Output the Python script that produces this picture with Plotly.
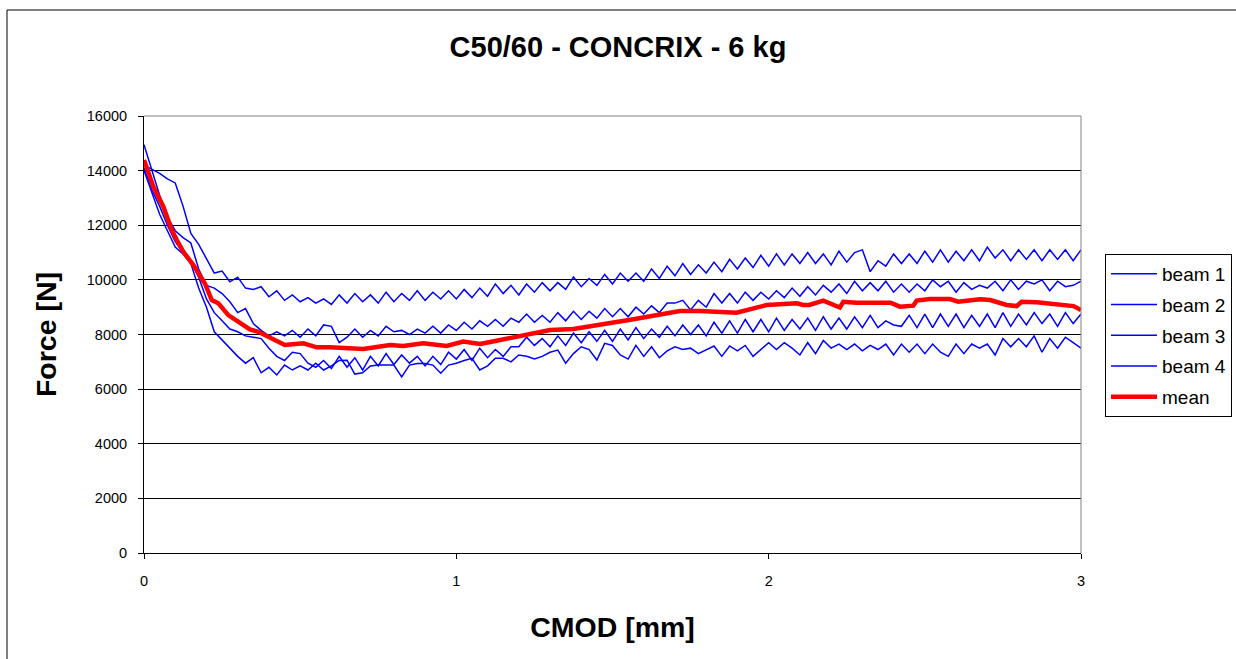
import plotly.graph_objects as go

# CMOD grid for the beam curves (mm)
cmod = [round(i * 0.025, 3) for i in range(121)]

beam_1 = [14200, 14050, 13900, 13700, 13550, 12700, 11700, 11300, 10750, 10250,
          10320, 9930, 10100, 9700, 9650, 9750, 9380, 9600, 9250, 9450,
          9200, 9350, 9150, 9300, 9100, 9450, 9150, 9500, 9200, 9450,
          9150, 9550, 9200, 9500, 9250, 9600, 9250, 9550, 9300, 9600,
          9300, 9650, 9350, 9700, 9400, 9850, 9500, 9800, 9450, 9850,
          9550, 9900, 9600, 9900, 9650, 10100, 9750, 10050, 9800, 10200,
          9850, 10250, 9950, 10250, 9950, 10400, 10050, 10500, 10150, 10600,
          10200, 10550, 10250, 10650, 10300, 10750, 10400, 10800, 10450, 10900,
          10500, 10950, 10550, 10950, 10600, 11000, 10600, 10950, 10550, 11050,
          10650, 11000, 11100, 10300, 10700, 10500, 10950, 10600, 10950, 10600,
          11050, 10650, 11100, 10650, 11050, 10700, 11100, 10700, 11200, 10800,
          11100, 10700, 11100, 10750, 11100, 10700, 11100, 10750, 11100, 10700,
          11100]

beam_2 = [14950, 14000, 13100, 12300, 11800, 11550, 11350, 10400, 9800, 9700,
          9500, 9200, 8800, 8950, 8400, 8150, 7950, 8100, 7950, 8150,
          7900, 8200, 7950, 8350, 8300, 7700, 7900, 8200, 7900, 8150,
          7950, 8300, 8100, 8150, 8000, 8200, 8050, 8300, 8050, 8350,
          8150, 8450, 8200, 8500, 8300, 8550, 8300, 8600, 8450, 8750,
          8450, 8700, 8450, 8800, 8500, 8850, 8550, 8850, 8600, 8950,
          8650, 8950, 8650, 9000, 8750, 9050, 8800, 9150, 9150, 9250,
          8900, 9250, 9000, 9500, 9150, 9500, 9150, 9550, 9250, 9550,
          9300, 9600, 9350, 9700, 9400, 9750, 9450, 9800, 9550, 9850,
          9500, 9950, 9600, 9900, 9600, 9950, 9550, 9850, 9550, 9850,
          9600, 10000, 9750, 9950, 9550, 9900, 9650, 9800, 9700, 9950,
          9600, 10000, 9650, 9950, 9850, 10000, 9600, 9950, 9750, 9800,
          9950]

beam_3 = [14100, 13300, 12700, 12000, 11400, 11000, 10700, 10100, 9300, 8800,
          8500, 8200, 8100, 7950, 7900, 7850, 7500, 7200, 7050, 7350,
          7300, 6950, 6800, 7050, 6750, 7200, 6800, 7150, 6700, 7200,
          6850, 7300, 6900, 7250, 6950, 7200, 6850, 7200, 6900, 7350,
          7100, 7450, 7050, 7500, 7150, 7450, 7200, 7550, 7550, 7900,
          7600, 7850, 7550, 7950, 7600, 8050, 7700, 8100, 7750, 8150,
          7750, 8200, 7800, 8250, 7850, 8200, 7900, 8300, 7950, 8350,
          8000, 8350, 7950, 8450, 8050, 8500, 8050, 8550, 8100, 8550,
          8100, 8600, 8150, 8550, 8200, 8600, 8150, 8650, 8200, 8600,
          8200, 8650, 8250, 8700, 8250, 8500, 8350, 8300, 8700, 8250,
          8750, 8250, 8750, 8300, 8750, 8250, 8700, 8300, 8750, 8250,
          8800, 8300, 8750, 8350, 8800, 8400, 8750, 8300, 8800, 8400,
          8750]

beam_4 = [14000, 13200, 12400, 11800, 11200, 10950, 10600, 9700, 9000, 8100,
          7800, 7500, 7200, 6950, 7150, 6600, 6800, 6520, 6880, 6700,
          6850, 6700, 6950, 6700, 6850, 7050, 7060, 6550, 6600, 6850,
          6880, 6880, 6880, 6450, 6880, 6940, 6940, 6880, 6580, 6880,
          6950, 7050, 7130, 6700, 6850, 7130, 7130, 7000, 7250, 7200,
          7100, 7200, 7350, 7430, 6950, 7300, 7550, 7450, 7065, 7675,
          7600, 7250, 7100, 7600, 7200, 7550, 7150, 7400, 7550, 7450,
          7500, 7300, 7450, 7580, 7200, 7580, 7400, 7600, 7200, 7450,
          7700, 7450, 7700, 7500, 7250, 7700, 7300, 7780, 7500, 7650,
          7450, 7650, 7400, 7600, 7450, 7650, 7250, 7650, 7350, 7650,
          7300, 7650, 7350, 7200, 7650, 7300, 7650, 7500, 7650, 7250,
          7850, 7550, 7850, 7550, 7950, 7350, 7850, 7500, 7900, 7700,
          7500]

mean_cmod = [0, 0.03, 0.062, 0.089, 0.105, 0.126, 0.158, 0.195, 0.217, 0.238,
             0.27, 0.307, 0.339, 0.366, 0.398, 0.425, 0.451, 0.51, 0.553, 0.595,
             0.702, 0.788, 0.83, 0.894, 0.969, 1.022, 1.076, 1.129, 1.172, 1.30,
             1.375, 1.46, 1.567, 1.716, 1.78, 1.897, 1.994, 2.09, 2.11, 2.13,
             2.175, 2.228, 2.239, 2.28, 2.39, 2.42, 2.463, 2.474, 2.516, 2.58,
             2.607, 2.677, 2.709, 2.762, 2.794, 2.81, 2.858, 2.976, 3.0]
mean_force = [14390, 13410, 12680, 11825, 11460, 11030, 10540, 9870, 9260, 9140,
              8710, 8410, 8190, 8100, 7920, 7800, 7615, 7675, 7530, 7530,
              7470, 7615, 7580, 7675, 7580, 7740, 7650, 7770, 7860, 8165,
              8200, 8350, 8555, 8860, 8860, 8800, 9080, 9140, 9080, 9080,
              9240, 8990, 9200, 9165, 9165, 9020, 9055, 9240, 9300, 9300,
              9200, 9290, 9260, 9080, 9040, 9200, 9180, 9040, 8900]

x_ticks = [0, 1, 2, 3]
y_ticks = [0, 2000, 4000, 6000, 8000, 10000, 12000, 14000, 16000]

FONT = "Liberation Sans, Arial, sans-serif"

fig = go.Figure()
for name, vals in [("beam 1", beam_1), ("beam 2", beam_2), ("beam 3", beam_3), ("beam 4", beam_4)]:
    fig.add_trace(go.Scatter(x=cmod, y=vals, mode="lines", name=name, legendgroup=name,
                             line=dict(color="#0000FF", width=1.5)))
fig.add_trace(go.Scatter(x=mean_cmod, y=mean_force, mode="lines", name="mean", legendgroup="mean",
                         line=dict(color="#FF0000", width=4.5)))

fig.update_layout(
    width=1236, height=659,
    margin=dict(l=144, r=155, t=116, b=106, autoexpand=False),
    paper_bgcolor="white", plot_bgcolor="white",
    font=dict(family=FONT, color="black"),
    title=dict(text="<b>C50/60 - CONCRIX - 6 kg</b>", x=0.5, xref="container", xanchor="center",
               y=1 - 47 / 659, yref="container", yanchor="middle", font=dict(size=29)),
    showlegend=True,
    legend=dict(x=(1105 - 144) / 937, y=(553 - 254) / 437, xanchor="left", yanchor="top",
                bordercolor="black", borderwidth=1, bgcolor="white",
                font=dict(size=19), tracegroupgap=3, traceorder="grouped",
                itemwidth=46),
    xaxis=dict(range=[0, 3], tickvals=x_ticks, ticks="outside", ticklen=5, tickcolor="black",
               showgrid=False, zeroline=False, showline=True, linecolor="black", linewidth=1,
               tickfont=dict(size=14.5), ticklabelstandoff=10,
               title=dict(text="<b>CMOD [mm]</b>", font=dict(size=28.5), standoff=28)),
    yaxis=dict(range=[0, 16000], tickvals=y_ticks, tickformat="d", ticks="outside", ticklen=5,
               tickcolor="black", showgrid=True, gridcolor="black", gridwidth=1, zeroline=False,
               showline=True, linecolor="black", linewidth=1, tickfont=dict(size=14.5),
               ticklabelstandoff=8,
               title=dict(text="<b>Force [N]</b>", font=dict(size=28.5), standoff=21)),
    shapes=[
        dict(type="line", xref="paper", yref="paper", x0=0, x1=1, y0=1, y1=1,
             line=dict(color="#808080", width=1), layer="above"),
        dict(type="line", xref="paper", yref="paper", x0=1, x1=1, y0=0, y1=1,
             line=dict(color="#808080", width=1), layer="above"),
        dict(type="rect", xref="paper", yref="paper", x0=(7 - 144) / 937, x1=1.2,
             y0=-0.4, y1=(553 - 10) / 437, line=dict(color="black", width=1), layer="below"),
    ],
)

fig.write_html("out.html")
